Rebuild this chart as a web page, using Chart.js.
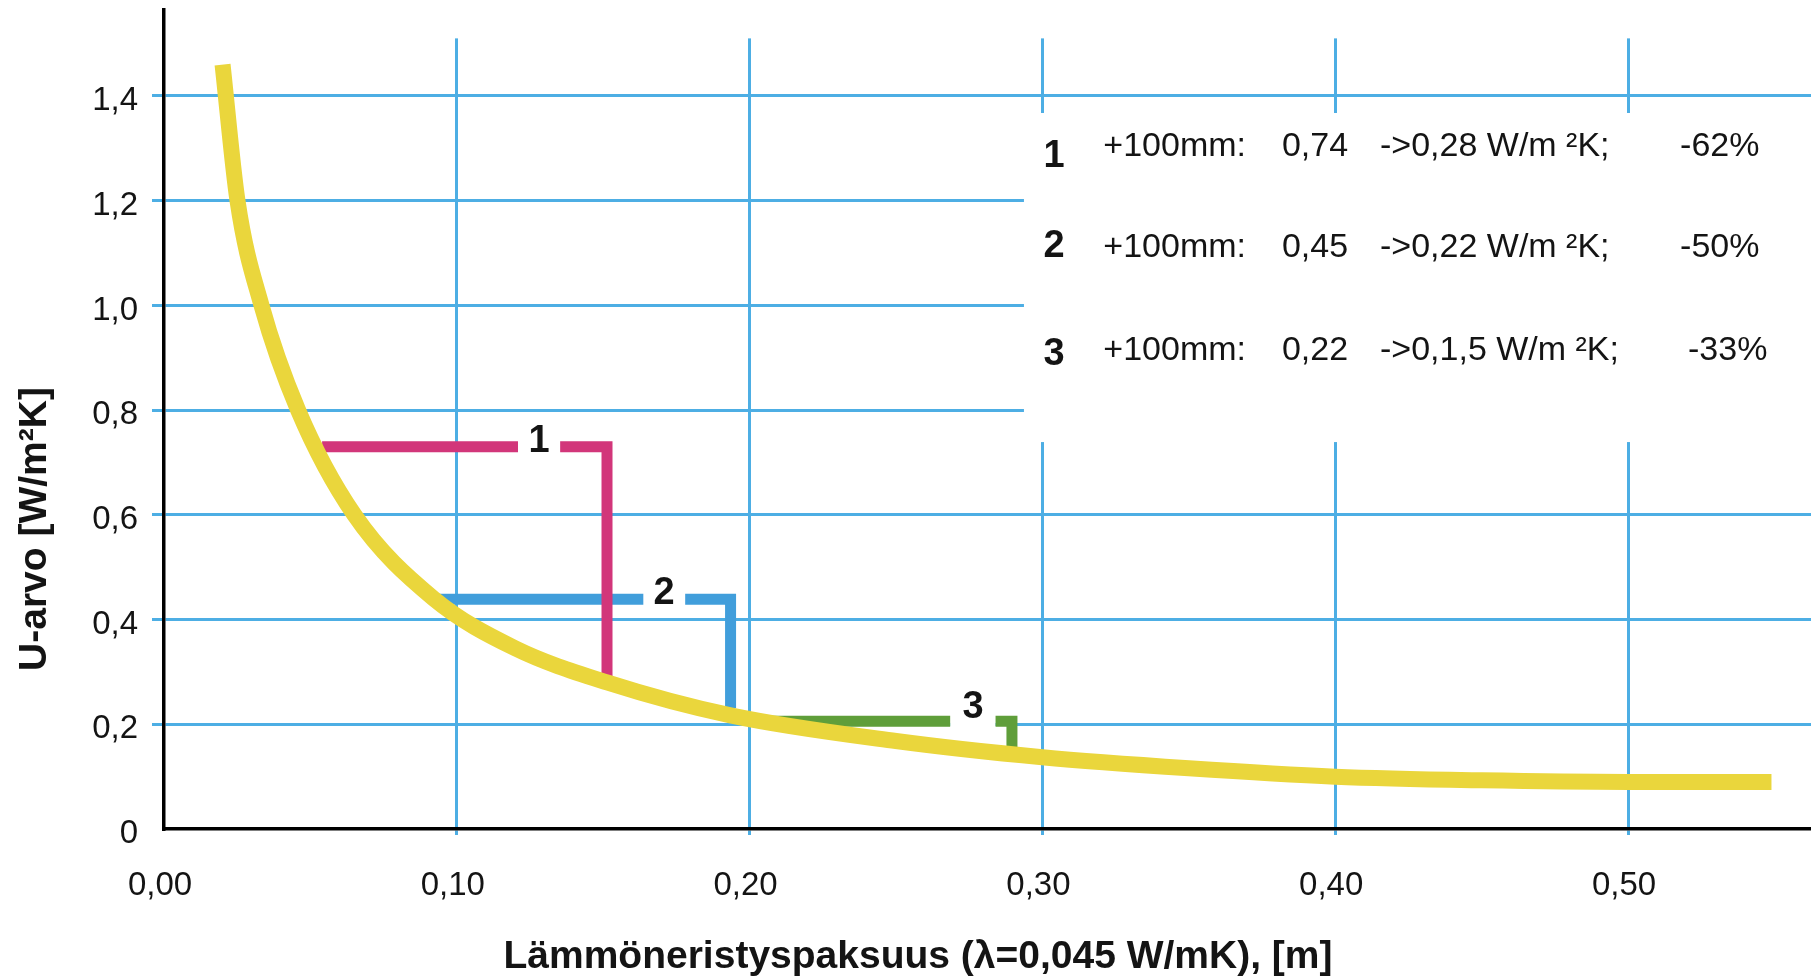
<!DOCTYPE html>
<html>
<head>
<meta charset="utf-8">
<title>U-arvo</title>
<script src="https://cdn.jsdelivr.net/npm/chart.js@4.4.1/dist/chart.umd.min.js"></script>
<style>
    html, body { margin: 0; padding: 0; background: #fff; }
    canvas { display: block; }
</style>
</head>
<body>
<canvas id="chart" width="1811" height="977"></canvas>
<script>
// thickness [m] and U-value [W/m2K]
const thickness = [0.0200, 0.0251, 0.0333, 0.0458, 0.0650, 0.0921, 0.1200, 0.1513, 0.1935, 0.2500, 0.3000, 0.3500, 0.4000, 0.4500, 0.5000, 0.5490];
const uValue = [1.460, 1.200, 1.000, 0.800, 0.600, 0.440, 0.345, 0.280, 0.217, 0.168, 0.137, 0.116, 0.100, 0.093, 0.090, 0.090];

// the three "+100 mm" brackets (null = gap for the number)
const step1X = [0.0540, 0.1209, 0.1281, 0.1353, 0.1513, 0.1513];
const step1Y = [0.730, 0.730, null, 0.730, 0.730, 0.291];
const step2X = [0.0931, 0.1637, 0.1708, 0.1780, 0.1935, 0.1935];
const step2Y = [0.439, 0.439, null, 0.439, 0.439, 0.231];
const step3X = [0.2000, 0.2685, 0.2763, 0.2840, 0.2896, 0.2896];
const step3Y = [0.206, 0.206, null, 0.206, 0.206, 0.155];
const stepLabels = ['1', '2', '3'];

const xTicks = [0, 0.1, 0.2, 0.3, 0.4, 0.5];
const xTickLabels = ['0,00', '0,10', '0,20', '0,30', '0,40', '0,50'];
const yTicks = [0, 0.2, 0.4, 0.6, 0.8, 1.0, 1.2, 1.4];
const yTickLabels = ['0', '0,2', '0,4', '0,6', '0,8', '1,0', '1,2', '1,4'];

const legendRows = [
    ['1', '+100mm:', '0,74', '->0,28 W/m ²K;', '-62%'],
    ['2', '+100mm:', '0,45', '->0,22 W/m ²K;', '-50%'],
    ['3', '+100mm:', '0,22', '->0,1,5 W/m ²K;', '-33%']
];

const xTitle = 'Lämmöneristyspaksuus (λ=0,045 W/mK), [m]';
const yTitle = 'U-arvo [W/m²K]';

// styling / layout
const FONT = '"Liberation Sans", Arial, sans-serif';
const GRID = '#4DAEE4';
const TEXT = '#141414';
const X_MAX = 0.5625;
const Y_MAX = 1.5642;
const GRID_TOP = 1.51;                 // vertical grid lines stop here
const BOX = { x0: 0.2937, y0: 1.3675, y1: 0.739 }; // white area behind the legend text
const LEG_COL_X = [0.3040, 0.3208, 0.3818, 0.4153];
const LEG_LAST_X = [0.5178, 0.5178, 0.5205];
const LEG_TEXT_Y = [1.2853, 1.0924, 0.8957];
const LEG_NUM_Y = [1.2643, 1.0924, 0.8862];
const LABEL_BASE = [0.7206, 0.4297, 0.2114];

function pts(xs, ys) {
    return xs.map((x, i) => ({ x: x, y: ys[i] }));
}

function stepSet(xs, ys, color) {
    return {
        data: pts(xs, ys),
        borderColor: color,
        borderWidth: 11,
        borderJoinStyle: 'miter',
        borderCapStyle: 'butt',
        pointRadius: 0,
        tension: 0,
        spanGaps: false
    };
}

const steps = [[step1X, step1Y], [step2X, step2Y], [step3X, step3Y]];

const overlay = {
    id: 'overlay',
    beforeDatasetsDraw(chart) {
        const { ctx, chartArea: a, scales: { x, y } } = chart;
        ctx.save();
        ctx.fillStyle = '#fff';
        // top strip: vertical grid lines start lower than the axis
        ctx.fillRect(a.left + 2, a.top, a.right - a.left, y.getPixelForValue(GRID_TOP) - a.top);
        // legend area
        const bx = x.getPixelForValue(BOX.x0);
        const by = y.getPixelForValue(BOX.y0);
        ctx.fillRect(bx, by, a.right - bx, y.getPixelForValue(BOX.y1) - by);
        // gaps behind the bracket numbers
        steps.forEach(([xs, ys]) => {
            const g = ys.indexOf(null);
            const gx0 = x.getPixelForValue(xs[g - 1]);
            const gx1 = x.getPixelForValue(xs[g + 1]);
            const gy = y.getPixelForValue(ys[g - 1]);
            ctx.fillRect(gx0, gy - 5.5, gx1 - gx0, 15);
        });
        ctx.restore();
    },
    afterDatasetsDraw(chart) {
        const { ctx, scales: { x, y } } = chart;
        ctx.save();
        ctx.fillStyle = TEXT;

        // bracket numbers
        ctx.font = 'bold 38px ' + FONT;
        ctx.textAlign = 'center';
        ctx.textBaseline = 'alphabetic';
        steps.forEach(([xs, ys], i) => {
            const g = ys.indexOf(null);
            ctx.fillText(stepLabels[i], x.getPixelForValue(xs[g]), y.getPixelForValue(LABEL_BASE[i]));
        });

        // legend rows
        legendRows.forEach((row, r) => {
            ctx.font = 'bold 38px ' + FONT;
            ctx.textAlign = 'center';
            ctx.fillText(row[0], x.getPixelForValue(LEG_COL_X[0]), y.getPixelForValue(LEG_NUM_Y[r]));
            ctx.font = '34px ' + FONT;
            ctx.textAlign = 'left';
            const ty = y.getPixelForValue(LEG_TEXT_Y[r]);
            for (let c = 1; c < 4; c++) {
                ctx.fillText(row[c], x.getPixelForValue(LEG_COL_X[c]), ty);
            }
            ctx.fillText(row[4], x.getPixelForValue(LEG_LAST_X[r]), ty);
        });

        ctx.restore();
    },
    afterDraw(chart) {
        const { ctx } = chart;
        ctx.save();
        ctx.fillStyle = TEXT;
        ctx.font = 'bold 39px ' + FONT;
        ctx.textAlign = 'center';
        ctx.textBaseline = 'alphabetic';
        ctx.fillText(xTitle, 918, 968);
        ctx.translate(45.5, 529);
        ctx.rotate(-Math.PI / 2);
        ctx.fillText(yTitle, 0, 0);
        ctx.restore();
    }
};

const gridColor = c => (c.tick && c.tick.value === 0) ? 'rgba(0,0,0,0)' : GRID;

new Chart(document.getElementById('chart'), {
    type: 'line',
    data: {
        datasets: [
            {
                data: pts(thickness, uValue),
                borderColor: '#EAD63C',
                borderWidth: 16,
                borderCapStyle: 'butt',
                pointRadius: 0,
                cubicInterpolationMode: 'monotone'
            },
            stepSet(step1X, step1Y, '#D2367A'),
            stepSet(step2X, step2Y, '#419EDB'),
            stepSet(step3X, step3Y, '#5F9E3A')
        ]
    },
    options: {
        responsive: false,
        animation: false,
        devicePixelRatio: 1,
        layout: { padding: { top: 10, right: 0, bottom: 0, left: 0 } },
        plugins: {
            legend: { display: false },
            tooltip: { enabled: false }
        },
        scales: {
            x: {
                type: 'linear',
                min: 0,
                max: X_MAX,
                afterBuildTicks: s => { s.ticks = xTicks.map(v => ({ value: v })); },
                afterFit: s => { s.height = 148; s.paddingLeft = 0; s.paddingRight = 0; },
                grid: { color: gridColor, lineWidth: 3, tickLength: 6 },
                border: { color: '#000', width: 3.5 },
                ticks: {
                    callback: v => xTickLabels[xTicks.indexOf(v)],
                    font: { family: FONT, size: 33 },
                    color: TEXT,
                    padding: 31,
                    labelOffset: -4,
                    maxRotation: 0,
                    autoSkip: false
                }
            },
            y: {
                min: 0,
                max: Y_MAX,
                afterBuildTicks: s => { s.ticks = yTicks.map(v => ({ value: v })); },
                afterFit: s => { s.width = 164; s.paddingTop = 0; s.paddingBottom = 0; },
                grid: { color: gridColor, lineWidth: 3, tickLength: 12 },
                border: { color: '#000', width: 3.5 },
                ticks: {
                    callback: v => yTickLabels[yTicks.indexOf(v)],
                    font: { family: FONT, size: 33 },
                    color: TEXT,
                    padding: 14,
                    labelOffset: 5,
                    autoSkip: false
                }
            }
        }
    },
    plugins: [overlay]
});
</script>
</body>
</html>
